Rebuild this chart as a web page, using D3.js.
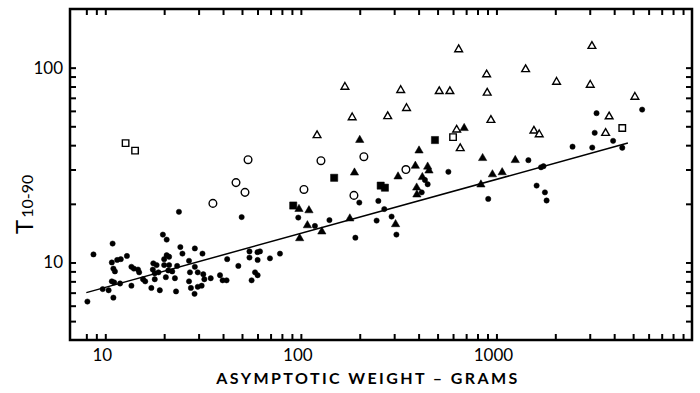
<!DOCTYPE html>
<html>
<head>
<meta charset="utf-8">
<script src="https://cdn.jsdelivr.net/npm/d3@7"></script>
<style>
  body { margin: 0; background: #fff; }
  svg { display: block; font-family: Lato, "DejaVu Sans", sans-serif; }
</style>
</head>
<body>
<svg id="chart" width="700" height="393"></svg>
<script>
// values: [asymptotic weight (g), T10-90]
const dots = [
  [8.1, 6.3], [8.7, 11.0], [9.7, 7.3], [10.4, 7.2], [10.9, 12.5], [10.8, 10.0], [11.5, 10.3], [12.0, 10.4],
  [12.9, 10.8], [11.0, 9.3], [11.2, 9.0], [10.8, 8.0], [11.1, 7.9], [11.9, 7.8], [11.0, 6.6], [13.6, 9.5],
  [14.0, 9.3], [14.7, 9.2], [14.9, 8.9], [13.6, 7.6], [15.6, 8.2], [16.0, 8.0], [17.2, 7.4], [17.6, 9.9],
  [18.3, 9.7], [17.5, 9.2], [17.9, 8.8], [18.7, 8.9], [17.9, 8.2], [19.0, 7.2], [19.7, 13.9], [20.6, 13.1],
  [20.0, 10.4], [20.6, 10.9], [21.2, 10.7], [20.0, 9.7], [21.2, 9.7], [21.0, 9.1], [20.4, 8.4], [22.0, 9.0],
  [22.7, 8.3], [23.0, 7.1], [23.3, 9.6], [23.8, 18.2], [24.2, 12.0], [24.8, 11.1],
  [26.8, 10.2], [28.7, 11.8], [31.4, 11.1], [28.7, 9.5], [27.1, 8.9], [29.7, 8.9], [31.7, 8.7], [32.1, 8.2],
  [34.6, 8.3], [26.8, 8.0], [38.6, 8.6], [39.8, 8.1], [41.7, 8.1], [27.4, 7.4], [29.7, 7.5], [31.1, 7.6],
  [28.6, 6.9], [42.0, 10.4], [47.9, 9.6], [49.8, 17.1], [54.6, 11.4], [54.6, 10.6], [60.0, 11.3], [61.8, 11.4],
  [60.1, 10.3], [58.3, 8.9], [60.1, 8.6], [56.0, 8.1], [69.5, 10.5], [78.2, 11.1],
  [97, 17.0], [118, 15.4], [140, 16.5], [190, 13.4], [199, 20.3], [249, 20.7], [267, 18.8], [244, 16.4],
  [291, 17.2], [308, 13.9], [415, 22.9], [445, 25.2], [431, 26.5], [568, 29.2], [908, 21.2], [1457, 33.5],
  [1690, 30.8], [1740, 31.2], [1605, 24.8], [1770, 22.9], [1805, 20.8], [2450, 39.3], [3090, 38.9],
  [3180, 46.3], [3250, 58.4], [3950, 42.1], [4400, 38.8], [5560, 60.9]
];
const filledTriangles = [
  [97.8, 18.8], [110, 18.5], [108, 15.5], [128, 14.4], [98.6, 13.3], [178, 16.8], [188, 28.9], [200, 42.5],
  [305, 15.7], [314, 27.6], [385, 31.3], [402, 37.5], [391, 24.2], [392, 22.3], [418, 27.4], [445, 31.0],
  [452, 29.6], [684, 48.9], [850, 34.3], [833, 25.1], [954, 28.3], [1070, 29.0], [1248, 33.5]
];
const openTriangles = [
  [168, 79.6], [121, 44.9], [183, 55.5], [278, 56.2], [324, 76.6], [347, 61.9], [510, 75.6], [578, 75.6],
  [641, 124], [891, 92.2], [897, 74.2], [937, 53.8], [626, 48.0], [653, 38.5], [1410, 98], [2030, 84.4],
  [3078, 129], [3018, 81.5], [5105, 70.7], [3770, 56.1], [1555, 47.4], [1655, 45.4], [3616, 46.1]
];
const openCircles = [
  [53.7, 33.7], [46.6, 25.7], [51.8, 22.9], [35.5, 20.1], [103.7, 23.7], [126.7, 33.3], [210, 34.9],
  [186.8, 22.1], [344.5, 30.0]
];
const filledSquares = [[91.4, 19.6], [148, 27.2], [256, 24.8], [269, 24.2], [485, 42.5]];
const openSquares = [[12.7, 41], [14.2, 37.5], [600, 44], [4400, 49]];

// fitted line end points
const fitWeight = [8, 4700];
const fitT = [7.0, 41];

const xTickLabels = [10, 100, 1000];
const yTickLabels = [10, 100];

const svg = d3.select('#chart');
const m = { left: 70, right: 692, top: 9, bottom: 340 };

const x = d3.scaleLog().domain([6.6, 10000]).range([m.left, m.right]);
const y = d3.scaleLog().domain([4, 200]).range([m.bottom, m.top]);

const xMinor = x.ticks().filter(v => v >= 8 && v < 10000);
const yMinor = y.ticks().filter(v => v > 4 && v < 200);

function styleTicks(g) {
  g.select('.domain').remove();
  g.selectAll('line').attr('stroke', '#000').attr('stroke-width', 2);
}

svg.append('g').attr('transform', `translate(0,${m.bottom})`)
  .call(d3.axisBottom(x).tickValues(xMinor).tickSize(-6).tickFormat(''))
  .call(styleTicks);
svg.append('g').attr('transform', `translate(0,${m.top})`)
  .call(d3.axisTop(x).tickValues(xMinor).tickSize(-6).tickFormat(''))
  .call(styleTicks);
svg.append('g').attr('transform', `translate(${m.left},0)`)
  .call(d3.axisLeft(y).tickValues(yMinor).tickSize(-6).tickFormat(''))
  .call(styleTicks);
svg.append('g').attr('transform', `translate(${m.right},0)`)
  .call(d3.axisRight(y).tickValues(yMinor).tickSize(-6).tickFormat(''))
  .call(styleTicks);

svg.append('rect')
  .attr('x', m.left).attr('y', m.top)
  .attr('width', m.right - m.left).attr('height', m.bottom - m.top)
  .attr('fill', 'none').attr('stroke', '#000').attr('stroke-width', 2.5);

// tick labels
svg.selectAll('.xlab').data(xTickLabels).enter().append('text')
  .attr('x', d => x(d) - 3).attr('y', 361)
  .attr('text-anchor', 'middle').attr('font-size', 17)
  .text(d => d);
svg.selectAll('.ylab').data(yTickLabels).enter().append('text')
  .attr('x', 63).attr('y', d => y(d) + 6)
  .attr('text-anchor', 'end').attr('font-size', 17)
  .text(d => d);

// axis titles
svg.append('text')
  .attr('x', 368).attr('y', 384)
  .attr('text-anchor', 'middle').attr('font-size', 16).attr('font-weight', 'bold')
  .attr('letter-spacing', 2.4)
  .text('ASYMPTOTIC WEIGHT – GRAMS');

const ytitle = svg.append('g')
  .attr('transform', 'translate(33,234) rotate(-90)')
  .append('text');
ytitle.append('tspan').attr('font-size', 24).text('T');
ytitle.append('tspan').attr('font-size', 16).attr('dx', 2).text('10-90');

// regression line
const line = d3.line().x(d => x(d[0])).y(d => y(d[1]));
svg.append('path')
  .datum(fitWeight.map((w, i) => [w, fitT[i]]))
  .attr('d', line)
  .attr('fill', 'none').attr('stroke', '#000').attr('stroke-width', 1.5);

function plot(data, type, size, filled) {
  svg.append('g').selectAll('path').data(data).enter().append('path')
    .attr('transform', d => `translate(${x(d[0])},${y(d[1])})`)
    .attr('d', d3.symbol().type(type).size(size))
    .attr('fill', filled ? '#000' : '#fff')
    .attr('stroke', '#000')
    .attr('stroke-width', filled ? 0.5 : 1.4);
}

plot(dots, d3.symbolCircle, 22, true);
plot(filledTriangles, d3.symbolTriangle, 30, true);
plot(filledSquares, d3.symbolSquare, 52, true);
plot(openTriangles, d3.symbolTriangle, 26, false);
plot(openCircles, d3.symbolCircle, 46, false);
plot(openSquares, d3.symbolSquare, 42, false);
</script>
</body>
</html>
